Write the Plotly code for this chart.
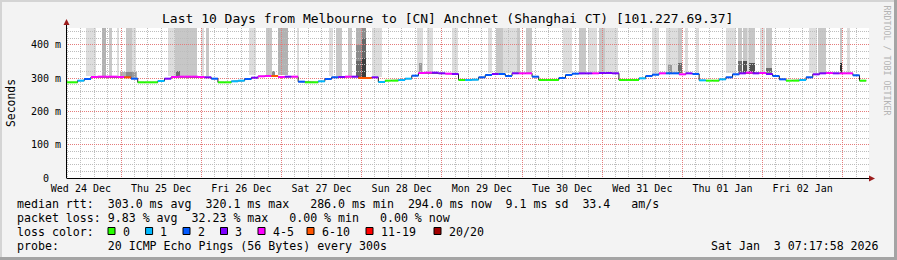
import math
import pandas as pd
import plotly.graph_objects as go

# ---------------- data ----------------
series_start = pd.Timestamp("2025-12-24 08:00")   # first median sample
sample_step_h = 2                                   # hours between samples

median_rtt_ms = [
    287, 287, 292, 297, 303, 304, 304, 304, 303, 302, 298, 287,   # Dec 24/25
    287, 287, 291, 298, 303, 304, 304, 304, 303, 302, 298, 287,   # Dec 25/26
    287, 290, 292, 297, 301, 305, 306, 306, 303, 304, 304, 289,   # Dec 26/27
    287, 287, 290, 297, 302, 303, 304, 304, 300, 300, 302, 288,   # Dec 27/28
    292, 292, 294, 298, 307, 315, 316, 316, 314, 313, 312, 294,   # Dec 28/29
    294, 295, 302, 309, 312, 312, 306, 314, 314, 314, 304, 294,   # Dec 29/30
    294, 294, 300, 309, 313, 314, 314, 314, 315, 315, 314, 294,   # Dec 30/31
    294, 294, 299, 306, 310, 314, 314, 314, 311, 314, 312, 293,   # Dec 31/Jan 1
    292, 292, 296, 302, 311, 314, 316, 314, 315, 312, 306, 296,   # Jan 1/2
    292, 292, 294, 302, 311, 314, 315, 314, 314, 314, 308, 292,   # Jan 2/3
]
lost_pings = [
    0, 0, 1, 2, 4, 4, 4, 5, 4, 7, 2, 0,
    0, 0, 1, 3, 4, 4, 5, 4, 4, 3, 2, 0,
    0, 1, 1, 2, 3, 4, 4, 7, 4, 3, 4, 2,
    0, 0, 1, 2, 2, 3, 4, 3, 8, 7, 3, 1,
    0, 0, 1, 1, 2, 4, 4, 3, 3, 4, 3, 0,
    1, 1, 2, 2, 3, 2, 2, 3, 4, 4, 2, 0,
    0, 0, 2, 2, 2, 3, 3, 4, 3, 3, 3, 0,
    0, 0, 1, 2, 2, 4, 2, 2, 4, 3, 2, 1,
    0, 0, 1, 2, 2, 3, 4, 3, 4, 3, 2, 2,
    0, 0, 1, 2, 3, 3, 4, 3, 4, 4, 2, 0,
]

# smoke (ping spread) blocks: hours after 2025-12-24 00:00, rtt range in ms, density level
smoke_origin = pd.Timestamp("2025-12-24 00:00")
smoke_start_h = [13.5, 18.2, 20.3, 22.7, 25.5, 27.2, 23.7, 38.2, 40.2, 40.5,
                 47.9, 49.3, 62.3, 67.4, 69.2, 71.1, 76.6, 86.2, 88.3, 92.0,
                 94.3, 94.3, 94.3, 96.0, 96.0, 96.0, 99.0, 112.5, 113.2, 115.5,
                 123.0, 133.9, 136.2, 138.4, 142.4, 145.2, 156.2, 161.1, 163.8, 167.1,
                 168.8, 182.8, 187.1, 187.7, 190.8, 190.8, 192.8, 196.0, 205.0, 208.7,
                 208.7, 210.2, 210.2, 211.2, 211.9, 211.9, 215.2, 216.9, 216.9, 229.9,
                 232.6, 239.1, 239.1, 241.1]
smoke_end_h = [16.5, 19.5, 21.3, 23.4, 27.2, 28.5, 28.8, 40.2, 46.6, 41.5,
               48.8, 50.3, 64.4, 69.2, 70.1, 74.1, 77.3, 87.4, 90.1, 93.0,
               96.0, 96.0, 96.0, 97.3, 97.3, 97.3, 102.0, 114.5, 114.1, 117.4,
               124.9, 134.9, 138.4, 142.4, 143.4, 146.9, 158.9, 163.1, 166.3, 168.8,
               172.8, 185.1, 190.8, 188.9, 191.8, 191.8, 193.8, 196.9, 208.0, 209.7,
               209.7, 211.2, 211.2, 211.9, 213.7, 213.7, 216.7, 218.7, 218.7, 232.2,
               234.9, 239.9, 239.9, 242.1]
smoke_low_ms = [306, 306, 306, 306, 304, 304, 300, 306, 306, 304,
                306, 306, 308, 308, 306, 308, 306, 306, 306, 306,
                400, 350, 302, 420, 360, 302, 304, 318, 316, 318,
                314, 315, 315, 315, 315, 316, 314, 316, 316, 316,
                316, 312, 316, 314, 316, 314, 316, 314, 315, 318,
                316, 318, 316, 318, 318, 316, 318, 318, 316, 315,
                316, 316, 312, 316]
smoke_high_ms = [500, 500, 500, 500, 500, 500, 318, 500, 500, 322,
                 500, 500, 500, 500, 322, 500, 500, 500, 500, 500,
                 500, 400, 350, 500, 420, 360, 500, 500, 344, 500,
                 500, 500, 500, 500, 500, 500, 500, 500, 500, 500,
                 500, 500, 500, 340, 500, 346, 500, 500, 500, 500,
                 350, 500, 352, 500, 500, 345, 500, 500, 330, 500,
                 500, 500, 345, 500]
smoke_level = [1, 3, 2, 1, 2, 1, 3, 1, 2, 4,
               1, 2, 1, 2, 4, 3, 1, 1, 2, 2,
               3, 4, 5, 4, 5, 6, 1, 1, 3, 1,
               1, 1, 2, 1, 2, 2, 1, 2, 1, 2,
               1, 1, 1, 3, 2, 4, 1, 1, 1, 2,
               4, 2, 5, 1, 2, 5, 1, 2, 4, 1,
               2, 2, 6, 1]

y_tick_values = [0, 100, 200, 300, 400]
y_tick_labels = ["0  ", "100 m", "200 m", "300 m", "400 m"]

loss_classes = ["0", "1", "2", "3", "4-5", "6-10", "11-19", "20/20"]
loss_colors = ["#26ff00", "#00b8ff", "#0059ff", "#7e00ff", "#ff00ff", "#ff5500", "#ff0000", "#a10000"]

title_text = "Last 10 Days from Melbourne to [CN] Anchnet (Shanghai CT) [101.227.69.37]"
median_line = "median rtt:  303.0 ms avg  320.1 ms max   286.0 ms min  294.0 ms now  9.1 ms sd  33.4   am/s"
loss_line = "packet loss: 9.83 % avg  32.23 % max   0.00 % min   0.00 % now"
probe_line = "probe:       20 ICMP Echo Pings (56 Bytes) every 300s"
stamp_text = "Sat Jan  3 07:17:58 2026"

# ---------------- geometry helpers ----------------
W, H = 897, 260
PL, PR, PT, PB = 67, 869, 28, 178
Y_MAX = 450
MONO = "DejaVu Sans Mono"
X0, X1 = pd.Timestamp("2025-12-24 07:50"), pd.Timestamp("2026-01-03 07:50")
SPAN_S = (X1 - X0).total_seconds()


def px(x):
    return (x - PL) / (PR - PL)


def py(y):
    return (PB - y) / (PB - PT)


def nb(s):
    return s.replace(" ", "\u00a0")


def pix_to_time(xp):
    return X0 + pd.Timedelta(seconds=(xp - PL) / (PR - PL) * SPAN_S)


def pix_to_val(yp):
    return (PB - yp) / (PB - PT) * Y_MAX


def class_of(n):
    if n == 0:
        return 0
    if n <= 3:
        return n
    if n <= 5:
        return 4
    if n <= 10:
        return 5
    if n <= 19:
        return 6
    return 7


level_colors = {1: "rgba(0,0,0,0.135)", 2: "rgba(0,0,0,0.22)", 3: "rgba(0,0,0,0.30)",
                4: "rgba(0,0,0,0.45)", 5: "rgba(0,0,0,0.60)", 6: "rgba(0,0,0,0.76)"}

fig = go.Figure()

# ---- dotted grid drawn as 1px dots at pixel centres ----
MAJOR_GRID = "#e47c7c"
MINOR_GRID = "#bdbdbd"
grid_pts = {MAJOR_GRID: ([], []), MINOR_GRID: ([], [])}
rows = [r + 0.5 for r in range(PT, PB, 2)]
colsx = [c + 0.5 for c in range(PL + 1, PR, 2)]
for t in pd.date_range("2025-12-24 04:00", "2026-01-03 04:00", freq="4h"):
    if not (X0 < t < X1):
        continue
    xp = math.floor(PL + (t - X0).total_seconds() / SPAN_S * (PR - PL)) + 0.5
    key = MAJOR_GRID if t.hour == 0 else MINOR_GRID
    tx = pix_to_time(xp)
    for r in rows:
        grid_pts[key][0].append(tx)
        grid_pts[key][1].append(pix_to_val(r))
for v in range(20, Y_MAX + 1, 20):
    yp = math.floor(PB - v / Y_MAX * (PB - PT)) + 0.5
    key = MAJOR_GRID if v % 100 == 0 else MINOR_GRID
    vy = pix_to_val(yp)
    for c in colsx:
        grid_pts[key][0].append(pix_to_time(c))
        grid_pts[key][1].append(vy)
for col in (MINOR_GRID, MAJOR_GRID):
    gx, gy = grid_pts[col]
    fig.add_trace(go.Scatter(x=gx, y=gy, mode="markers",
                             marker=dict(symbol="square", size=1, color=col, line=dict(width=0)),
                             hoverinfo="skip", showlegend=False, cliponaxis=True))

# smoke bars
centers, widths, bases, heights, cols = [], [], [], [], []
for s, e, lo, hi, lv in zip(smoke_start_h, smoke_end_h, smoke_low_ms, smoke_high_ms, smoke_level):
    t0 = smoke_origin + pd.Timedelta(hours=s)
    t1 = smoke_origin + pd.Timedelta(hours=e)
    centers.append(t0 + (t1 - t0) / 2)
    widths.append((t1 - t0).total_seconds() * 1000)
    bases.append(lo)
    heights.append(hi - lo)
    cols.append(level_colors[lv])
fig.add_trace(go.Bar(x=centers, y=heights, base=bases, width=widths,
                     marker=dict(color=cols, line=dict(width=0)),
                     hoverinfo="skip", showlegend=False))

# median: dark step connector, then coloured segments per loss class
times = [series_start + pd.Timedelta(hours=sample_step_h * k) for k in range(len(median_rtt_ms))]
half = pd.Timedelta(hours=sample_step_h / 2)
cx, cy = [], []
for t, v in zip(times, median_rtt_ms):
    cx += [t - half, t + half]
    cy += [v, v]
fig.add_trace(go.Scatter(x=cx, y=cy, mode="lines", line=dict(color="#202020", width=1),
                         hoverinfo="skip", showlegend=False))

for ci, col in enumerate(loss_colors):
    xs, ys = [], []
    for t, v, n in zip(times, median_rtt_ms, lost_pings):
        if class_of(n) == ci:
            xs += [t - half, t + half, None]
            ys += [v, v, None]
    if xs:
        fig.add_trace(go.Scatter(x=xs, y=ys, mode="lines", line=dict(color=col, width=2),
                                 hoverinfo="skip", showlegend=False))

# ---------------- decorations ----------------
shapes = []
# frame
shapes.append(dict(type="line", xref="paper", yref="paper", x0=px(0), x1=px(W), y0=py(1), y1=py(1),
                   line=dict(color="#d4d4d4", width=2)))
shapes.append(dict(type="line", xref="paper", yref="paper", x0=px(1), x1=px(1), y0=py(0), y1=py(H),
                   line=dict(color="#d4d4d4", width=2)))
shapes.append(dict(type="line", xref="paper", yref="paper", x0=px(895.5), x1=px(895.5), y0=py(0), y1=py(H),
                   line=dict(color="#a4a4a4", width=3)))
shapes.append(dict(type="line", xref="paper", yref="paper", x0=px(0), x1=px(W), y0=py(258.5), y1=py(258.5),
                   line=dict(color="#a4a4a4", width=3)))
# axes
shapes.append(dict(type="line", xref="paper", yref="paper", x0=px(67), x1=px(871), y0=py(178.5), y1=py(178.5),
                   line=dict(color="#000000", width=1)))
shapes.append(dict(type="line", xref="paper", yref="paper", x0=px(66.5), x1=px(66.5), y0=py(178.5), y1=py(23),
                   line=dict(color="#000000", width=1)))
# arrow heads
def tri(pts):
    return "M " + " L ".join(f"{px(a):.5f},{py(b):.5f}" for a, b in pts) + " Z"
shapes.append(dict(type="path", xref="paper", yref="paper", path=tri([(869, 175.5), (875, 178.5), (869, 181.5)]),
                   fillcolor="#9b1c1c", line=dict(width=0)))
shapes.append(dict(type="path", xref="paper", yref="paper", path=tri([(63.5, 25), (66.5, 19), (69.5, 25)]),
                   fillcolor="#9b1c1c", line=dict(width=0)))

annotations = []
def text(x, y, s, size=11.6, anchor="left", color="#000000", angle=0, vanchor="middle"):
    annotations.append(dict(x=px(x), y=py(y), xref="paper", yref="paper", text=nb(s), showarrow=False,
                            xanchor=anchor, yanchor=vanchor, textangle=angle,
                            font=dict(family=MONO, size=size, color=color), borderpad=0))

text(447, 19, title_text, size=13, anchor="center")
text(11, 103, "Seconds", size=11.4, anchor="center", angle=-90)
text(886.5, 60, "RRDTOOL / TOBI OETIKER", size=8.3, anchor="center", color="#b4b4b4", angle=90)
text(16, 204, median_line)
text(16, 218, loss_line)
text(16, 232, "loss color:")
text(16, 246, probe_line)
text(880, 246, stamp_text, anchor="right")

box_x = [108, 145.6, 183, 220.5, 258, 307, 366, 434]
for bx, lab, col in zip(box_x, loss_classes, loss_colors):
    shapes.append(dict(type="rect", xref="paper", yref="paper", x0=px(bx), x1=px(bx + 7), y0=py(227.5), y1=py(234.5),
                       fillcolor=col, line=dict(color="#000000", width=1)))
    text(bx + 13.5, 232, lab)

fig.update_layout(
    width=W, height=H, autosize=False,
    margin=dict(l=PL, r=W - PR, t=PT, b=H - PB, pad=0),
    paper_bgcolor="#f3f3f3", plot_bgcolor="#ffffff",
    barmode="overlay", bargap=0, showlegend=False,
    shapes=shapes, annotations=annotations,
    xaxis=dict(type="date", range=[str(X0), str(X1)],
               dtick=86400000, tick0="2025-12-24", ticklabelmode="period", tickformat="%a %d %b",
               tickfont=dict(family=MONO, size=10, color="#000000"), ticklabelstandoff=3,
               showgrid=False, showline=False, zeroline=False, ticks="", fixedrange=True),
    yaxis=dict(range=[0, Y_MAX], tickmode="array", tickvals=y_tick_values,
               ticktext=[nb(s) for s in y_tick_labels],
               tickfont=dict(family=MONO, size=10, color="#000000"), ticklabelstandoff=5,
               showgrid=False, showline=False, zeroline=False, ticks="", fixedrange=True),
)

fig.write_html("out.html", config={"displayModeBar": False, "staticPlot": True})
